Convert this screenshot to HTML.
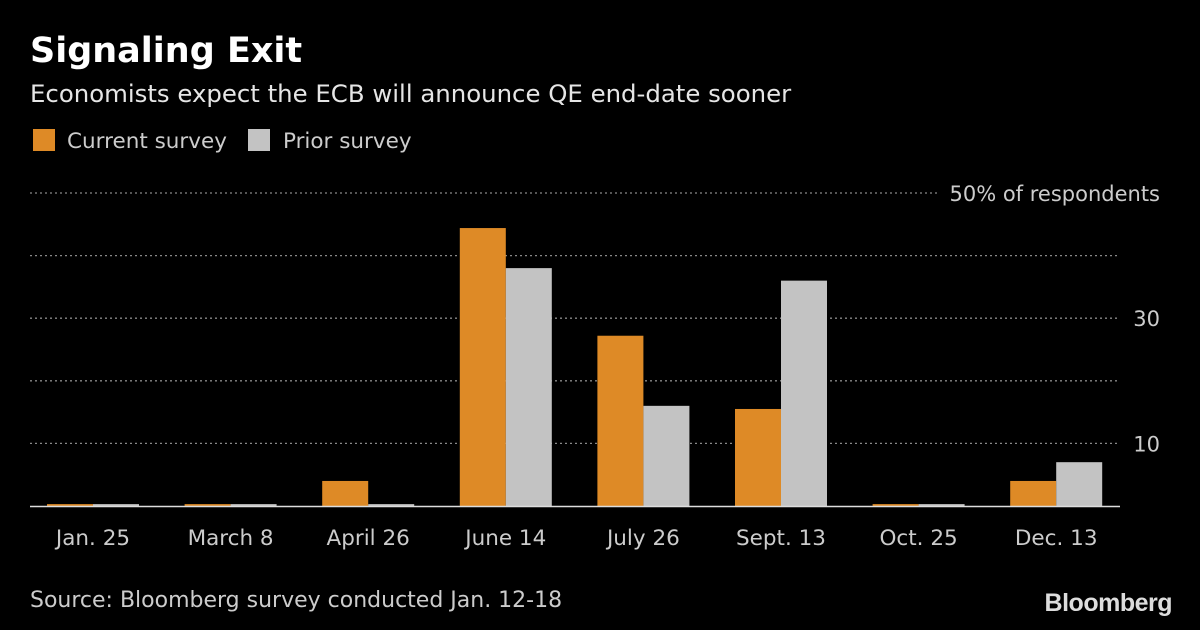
<!DOCTYPE html>
<html><head><meta charset="utf-8"><style>
body{margin:0;background:#000;width:1200px;height:630px;overflow:hidden;font-family:"DejaVu Sans",sans-serif;}
svg{display:block}
</style></head><body>
<svg id="chart" width="1200" height="630">
<text x="30" y="62" fill="#fff" font-size="35" font-weight="bold">Signaling Exit</text>
<text x="30" y="102" fill="#e6e6e6" font-size="24.4">Economists expect the ECB will announce QE end-date sooner</text>
<rect x="33" y="129" width="22" height="22" fill="#de8a26"/>
<text x="67" y="148" fill="#ccc" font-size="21.5">Current survey</text>
<rect x="248" y="129" width="22" height="22" fill="#c3c3c3"/>
<text x="283" y="148" fill="#ccc" font-size="21.5">Prior survey</text>
<g id="grid"></g><g id="bars"></g><g id="labels"></g>
<line x1="30" y1="506.5" x2="1120" y2="506.5" stroke="#ddd" stroke-width="1.5"/>
<text x="30" y="607" fill="#ccc" font-size="22">Source: Bloomberg survey conducted Jan. 12-18</text>
<text x="1172" y="611" fill="#ddd" font-family="Liberation Sans, sans-serif" font-size="25" font-weight="bold" text-anchor="end" letter-spacing="-0.5">Bloomberg</text>
</svg>
<script>
const categories=["Jan. 25","March 8","April 26","June 14","July 26","Sept. 13","Oct. 25","Dec. 13"];
const currentValues=[0.3,0.3,4,44.4,27.2,15.5,0.3,4];
const priorValues=[0.3,0.3,0.3,38,16,36,0.3,7];
const gridTicks=[10,20,30,40,50];
const tickLabels=["10","","30","","50% of respondents"];
const NS="http://www.w3.org/2000/svg";
const y=v=>506-v*6.26;
const xc=i=>93+i*137.6;
const bw=46;
function mk(t,a,p){const e=document.createElementNS(NS,t);for(const k in a)e.setAttribute(k,a[k]);p.appendChild(e);return e;}
const g=document.getElementById('grid'),b=document.getElementById('bars'),l=document.getElementById('labels');
gridTicks.forEach((v,i)=>{
 const end=(i===gridTicks.length-1)?940:1120;
 const ln=mk('line',{x1:30,x2:end,y1:y(v),y2:y(v),stroke:'#888','stroke-dasharray':'2,3','stroke-width':1.3},g);
 
 
 if(tickLabels[i]){const t=mk('text',{x:1160,y:y(v)+8,fill:'#ccc','font-size':21,'text-anchor':'end'},g);t.textContent=tickLabels[i];
 
 }
});
categories.forEach((c,i)=>{
 const r1=mk('rect',{x:xc(i)-bw,y:y(currentValues[i]),width:bw,height:506-y(currentValues[i]),fill:'#de8a26'},b);
 
 
 const r2=mk('rect',{x:xc(i),y:y(priorValues[i]),width:bw,height:506-y(priorValues[i]),fill:'#c3c3c3'},b);
 
 
 const t=mk('text',{x:xc(i),y:545,fill:'#ccc','font-size':21.5,'text-anchor':'middle'},l);
 t.textContent=c;
 
 
});
</script>
</body></html>
